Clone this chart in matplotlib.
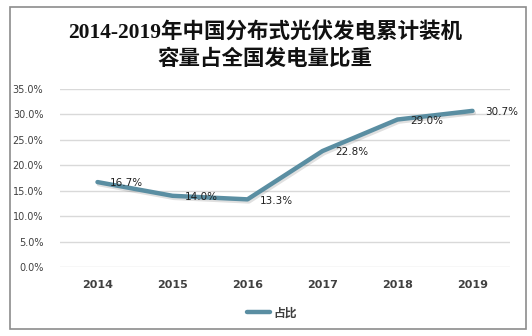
import matplotlib.pyplot as plt
import matplotlib.patheffects as pe
from matplotlib.patches import Rectangle
from matplotlib.ticker import FuncFormatter

plt.rcParams['font.family'] = ['DejaVu Sans', 'Noto Sans CJK SC']

years = ['2014', '2015', '2016', '2017', '2018', '2019']
share = [16.7, 14.0, 13.3, 22.8, 29.0, 30.7]
yticks = [0, 5, 10, 15, 20, 25, 30, 35]

line_color = '#5a8ea2'
text_color = '#404040'

fig = plt.figure(figsize=(5.32, 3.36), dpi=100)
fig.patch.set_facecolor('white')

# 外框
fig.patches.append(Rectangle((10 / 532, 7 / 336), 516 / 532, 322 / 336,
                             transform=fig.transFigure, fill=False,
                             edgecolor='#8c8c8c', linewidth=1.2))

ax = fig.add_axes([60 / 532, 69 / 336, 450 / 532, 178 / 336])
x = list(range(len(years)))
line, = ax.plot(x, share, color=line_color, linewidth=3.2, solid_capstyle='round',
                solid_joinstyle='round', label='占比')
line.set_path_effects([pe.SimpleLineShadow(offset=(1, -1.5), alpha=0.12),
                       pe.Normal()])

for xi, v in zip(x, share):
    ax.annotate(f'{v:.1f}%', (xi, v), xytext=(9, -1), textcoords='offset points',
                ha='left', va='center', fontsize=7.5, color='#202020')

ax.set_xlim(-0.5, len(years) - 0.5)
ax.set_ylim(0, 35)
ax.set_yticks(yticks)
ax.yaxis.set_major_formatter(FuncFormatter(lambda v, p: f'{v:.1f}%'))
ax.set_xticks(x)
ax.set_xticklabels(years)
ax.grid(axis='y', color='#d9d9d9', linewidth=1)
ax.set_axisbelow(True)
for s in ax.spines.values():
    s.set_visible(False)
ax.tick_params(length=0, labelcolor=text_color)
ax.tick_params(axis='y', labelsize=7, pad=12)
ax.tick_params(axis='x', labelsize=8, pad=9)
for lab in ax.get_xticklabels():
    lab.set_fontweight('bold')

title_font = ['Liberation Serif', 'Noto Sans CJK SC']
fig.text(265 / 532, 1 - 32 / 336, '2014-2019年中国分布式光伏发电累计装机',
         ha='center', va='center', fontsize=15.5, fontweight='bold',
         color='#111111', family=title_font)
fig.text(265 / 532, 1 - 60 / 336, '容量占全国发电量比重',
         ha='center', va='center', fontsize=15.5, fontweight='bold',
         color='#111111', family=title_font)

leg = fig.legend(loc='center', bbox_to_anchor=(272 / 532, 1 - 313 / 336), frameon=False,
                 fontsize=8.5, handlelength=2.0, handletextpad=0.3)
for h in leg.legend_handles:
    h.set_path_effects([])
for t in leg.get_texts():
    t.set_color(text_color)
    t.set_fontweight('bold')

fig.savefig('out.png', dpi=100)
